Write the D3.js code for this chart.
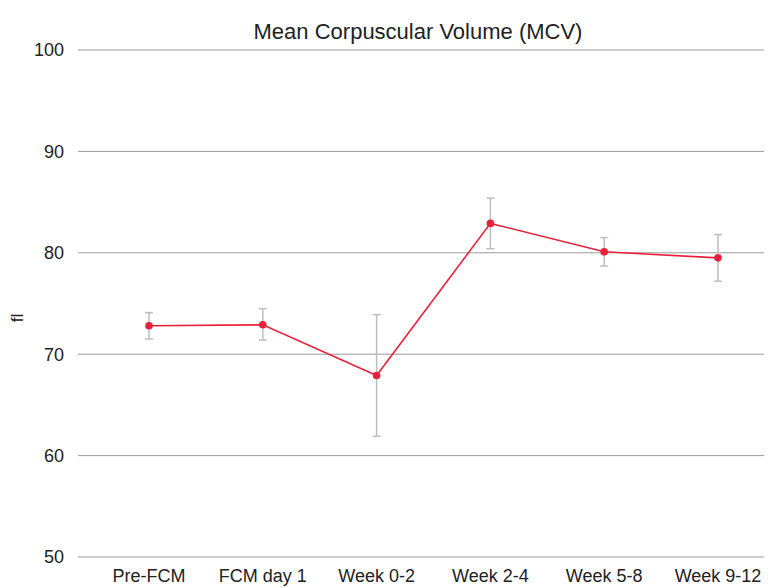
<!DOCTYPE html>
<html>
<head>
<meta charset="utf-8">
<script src="https://cdn.jsdelivr.net/npm/d3@7"></script>
<style>
  html, body { margin: 0; padding: 0; background: #fff; }
  svg { display: block; font-family: "Liberation Sans", Arial, Helvetica, sans-serif; }
</style>
</head>
<body>
<svg id="chart" width="771" height="588"></svg>
<script>
const categories = ["Pre-FCM", "FCM day 1", "Week 0-2", "Week 2-4", "Week 5-8", "Week 9-12"];
const meanValues = [72.8, 72.9, 67.9, 82.9, 80.1, 79.5];
const upperValues = [74.1, 74.5, 73.9, 85.4, 81.5, 81.8];
const lowerValues = [71.5, 71.4, 61.9, 80.4, 78.7, 77.2];
const yTicks = [50, 60, 70, 80, 90, 100];
const titleText = "Mean Corpuscular Volume (MCV)";
const yLabel = "fl";

const svg = d3.select("#chart");
const gridLeft = 78, gridRight = 764;

const x = d3.scalePoint().domain(categories).range([149, 718]);
const y = d3.scaleLinear().domain([50, 100]).range([557, 50]);

// gridlines
svg.append("g").selectAll("line").data(yTicks).join("line")
  .attr("x1", gridLeft).attr("x2", gridRight)
  .attr("y1", d => y(d)).attr("y2", d => y(d))
  .attr("stroke", "#9a9a9a").attr("stroke-width", 1);

// y tick labels
svg.append("g").selectAll("text").data(yTicks).join("text")
  .attr("x", 64).attr("y", d => y(d))
  .attr("dy", "0.36em").attr("text-anchor", "end")
  .attr("font-size", 18).attr("fill", "#222")
  .text(d => d);

// x labels
svg.append("g").selectAll("text").data(categories).join("text")
  .attr("x", d => x(d)).attr("y", 582)
  .attr("text-anchor", "middle")
  .attr("font-size", 18).attr("fill", "#222")
  .text(d => d);

// title
svg.append("text").attr("x", 418).attr("y", 39)
  .attr("text-anchor", "middle").attr("font-size", 22).attr("fill", "#222")
  .text(titleText);

// y label
svg.append("text").attr("transform", "translate(23,318) rotate(-90)")
  .attr("text-anchor", "middle").attr("font-size", 17).attr("fill", "#222")
  .text(yLabel);

const data = categories.map((c, i) => ({c, m: meanValues[i], hi: upperValues[i], lo: lowerValues[i]}));

// error bars
const eb = svg.append("g").attr("stroke", "#bdbdbd").attr("stroke-width", 1.5);
eb.selectAll("line.v").data(data).join("line").attr("class", "v")
  .attr("x1", d => x(d.c)).attr("x2", d => x(d.c))
  .attr("y1", d => y(d.hi)).attr("y2", d => y(d.lo));
eb.selectAll("line.t").data(data).join("line").attr("class", "t")
  .attr("x1", d => x(d.c) - 4).attr("x2", d => x(d.c) + 4)
  .attr("y1", d => y(d.hi)).attr("y2", d => y(d.hi));
eb.selectAll("line.b").data(data).join("line").attr("class", "b")
  .attr("x1", d => x(d.c) - 4).attr("x2", d => x(d.c) + 4)
  .attr("y1", d => y(d.lo)).attr("y2", d => y(d.lo));

// line
svg.append("path").datum(data)
  .attr("fill", "none").attr("stroke", "#e8213a").attr("stroke-width", 1.6)
  .attr("d", d3.line().x(d => x(d.c)).y(d => y(d.m)));

// points
svg.append("g").selectAll("circle").data(data).join("circle")
  .attr("cx", d => x(d.c)).attr("cy", d => y(d.m)).attr("r", 3.8)
  .attr("fill", "#e8213a");
</script>
</body>
</html>
